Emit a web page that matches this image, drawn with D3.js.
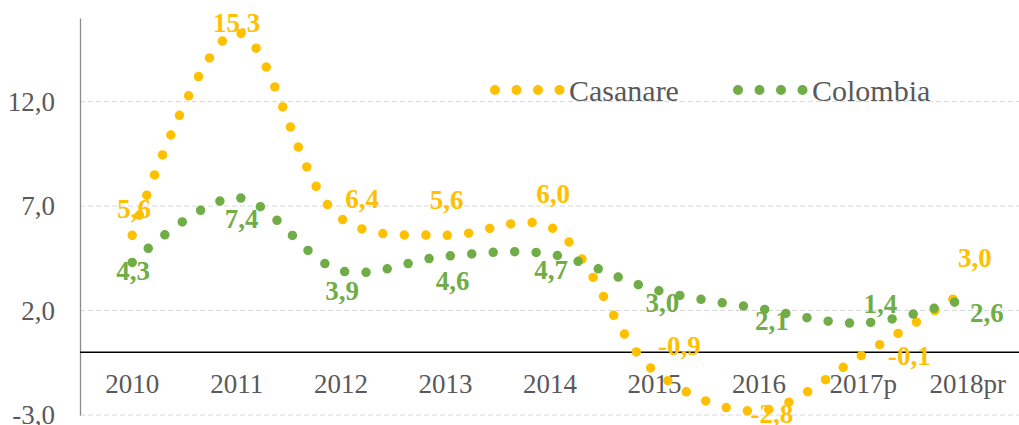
<!DOCTYPE html>
<html>
<head>
<meta charset="utf-8">
<script src="https://cdn.jsdelivr.net/npm/d3@7"></script>
<style>
  html, body { margin: 0; padding: 0; background: #ffffff; }
  svg { display: block; font-family: "Liberation Serif", "Times New Roman", serif; }
</style>
</head>
<body>
<svg id="chart" width="1019" height="425"></svg>
<script>
const categories = ['2010', '2011', '2012', '2013', '2014', '2015', '2016', '2017p', '2018pr'];
const casanare = [5.6, 15.3, 6.4, 5.6, 6.0, -0.9, -2.8, -0.1, 3.0];
const colombia = [4.3, 7.4, 3.9, 4.6, 4.7, 3.0, 2.1, 1.4, 2.6];
const yTicks = [-3, 2, 7, 12];

// label offsets (px) from each point
const casanareLabelOffsets = [[2, -27], [0, -10], [21, -20], [1, -36], [3, -33], [25, -26], [13, 3], [46, 1], [7, -32]];
const colombiaLabelOffsets = [[1, 8], [5, 21], [1, 20], [7, 24], [1, 15], [8, 13], [13, 12], [17, -20], [19, 15]];

const palette = {
  casanare: '#FFC000',
  colombia: '#70AD47',
  text: '#595959',
  grid: '#D9D9D9',
  axis: '#8C8C8C'
};

const width = 1019;
const height = 425;
const margin = { top: 18, right: -1, bottom: 10, left: 80 };

const svg = d3.select('#chart');

const x = d3.scaleBand()
  .domain(categories)
  .range([margin.left, width - margin.right]);
const cx = d => x(d) + x.bandwidth() / 2;

const y = d3.scaleLinear()
  .domain([-3, 16])
  .range([height - margin.bottom, margin.top]);

const fmt = v => d3.format('.1f')(v).replace('.', ',').replace('−', '-');

// gridlines
svg.append('g')
  .selectAll('line')
  .data(yTicks)
  .enter()
  .append('line')
  .attr('x1', margin.left)
  .attr('x2', width)
  .attr('y1', d => y(d))
  .attr('y2', d => y(d))
  .attr('stroke', palette.grid)
  .attr('stroke-width', 1)
  .attr('stroke-dasharray', '5 3');

// y axis
const yAxis = svg.append('g')
  .attr('transform', `translate(${margin.left},0)`)
  .call(d3.axisLeft(y).tickValues(yTicks).tickSize(0).tickPadding(25).tickFormat(fmt));
yAxis.select('.domain').attr('stroke', palette.axis).attr('stroke-width', 1.3);
yAxis.selectAll('text')
  .attr('fill', palette.text)
  .attr('font-size', 27)
  .attr('font-family', '"Liberation Serif", serif');

// zero line
svg.append('line')
  .attr('x1', margin.left)
  .attr('x2', width)
  .attr('y1', y(0))
  .attr('y2', y(0))
  .attr('stroke', '#000000')
  .attr('stroke-width', 1.5);

// category labels
svg.append('g')
  .selectAll('text')
  .data(categories)
  .enter()
  .append('text')
  .attr('x', d => cx(d))
  .attr('y', y(0) + 41)
  .attr('text-anchor', 'middle')
  .attr('font-size', 27)
  .attr('fill', palette.text)
  .text(d => d);

const line = d3.line()
  .x((d, i) => cx(categories[i]))
  .y(d => y(d))
  .curve(d3.curveCatmullRom.alpha(0.5));

const series = [
  { name: 'Casanare', values: casanare, color: palette.casanare, offsets: casanareLabelOffsets },
  { name: 'Colombia', values: colombia, color: palette.colombia, offsets: colombiaLabelOffsets }
];

series.forEach(s => {
  svg.append('path')
    .datum(s.values)
    .attr('d', line)
    .attr('fill', 'none')
    .attr('stroke', s.color)
    .attr('stroke-width', 9.5)
    .attr('stroke-linecap', 'round')
    .attr('stroke-dasharray', '0 21.5');
});

series.forEach(s => {
  svg.append('g')
    .selectAll('text')
    .data(s.values)
    .enter()
    .append('text')
    .attr('x', (d, i) => cx(categories[i]) + s.offsets[i][0])
    .attr('y', (d, i) => y(d) + s.offsets[i][1])
    .attr('dy', '0.35em')
    .attr('text-anchor', 'middle')
    .attr('font-size', 27)
    .attr('font-weight', 700)
    .attr('fill', s.color)
    .text(d => fmt(d));
});

// legend
const legendItems = [
  { name: 'Casanare', color: palette.casanare, x: 495 },
  { name: 'Colombia', color: palette.colombia, x: 738 }
];
const legend = svg.append('g');
legendItems.forEach(item => {
  legend.append('line')
    .attr('x1', item.x)
    .attr('x2', item.x + 66)
    .attr('y1', 90)
    .attr('y2', 90)
    .attr('stroke', item.color)
    .attr('stroke-width', 10)
    .attr('stroke-linecap', 'round')
    .attr('stroke-dasharray', '0 21.5');
  legend.append('text')
    .attr('x', item.x + 74)
    .attr('y', 90)
    .attr('dy', '0.35em')
    .attr('font-size', 30)
    .attr('fill', palette.text)
    .text(item.name);
});
</script>
</body>
</html>
